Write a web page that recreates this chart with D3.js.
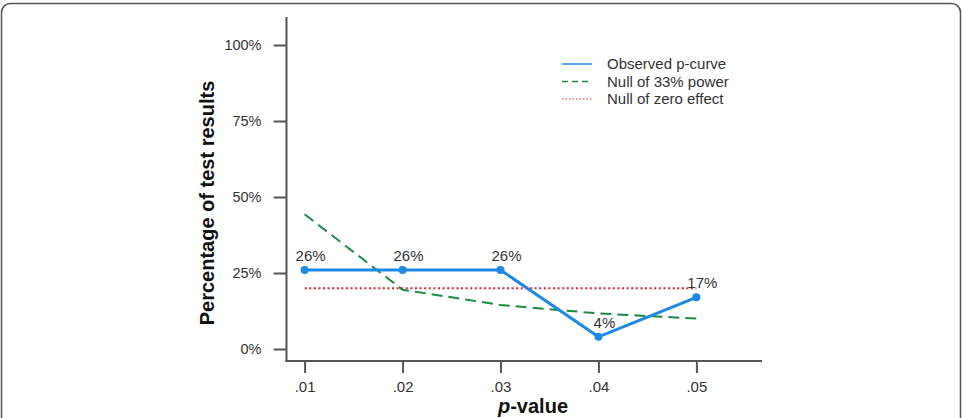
<!DOCTYPE html>
<html lang="en">
<head>
  <meta charset="UTF-8">
  <title>p-curve</title>
  <script src="https://d3js.org/d3.v7.min.js"></script>
  <style>
    body { margin: 0; background: #fff; }
    svg { display: block; font-family: "Liberation Sans", Arial, Helvetica, sans-serif; }
  </style>
</head>
<body>
<script>
  // Chart data
  const pValues = [0.01, 0.02, 0.03, 0.04, 0.05];
  const tickLabels = ['.01', '.02', '.03', '.04', '.05'];
  const observed = [0.26, 0.26, 0.26, 0.04, 0.17];
  const observedLabels = ['26%', '26%', '26%', '4%', '17%'];
  const null33 = [0.443, 0.195, 0.145, 0.117, 0.100];
  const nullZero = [0.20, 0.20, 0.20, 0.20, 0.20];
  const yTicks = [0, 0.25, 0.5, 0.75, 1];
  const legendNames = ['Observed p-curve', 'Null of 33% power', 'Null of zero effect'];

  const width = 963, height = 418;

  const svg = d3.select('body').append('svg')
    .attr('width', width)
    .attr('height', height);

  // rounded frame around the figure
  svg.append('rect')
    .attr('x', 1.5).attr('y', 3.5)
    .attr('width', 959).attr('height', 440)
    .attr('rx', 9)
    .attr('fill', '#fff')
    .attr('stroke', '#555')
    .attr('stroke-width', 1.5);

  // scales
  const x = d3.scaleLinear().domain([0.0081, 0.0567]).range([286, 762]);
  const y = d3.scaleLinear().domain([0, 1]).range([349, 45]);

  const axisColor = '#555';
  const textColor = '#333';

  // y axis
  const yAxis = svg.append('g')
    .attr('transform', 'translate(286.5,0)')
    .call(d3.axisLeft(y).tickValues(yTicks).tickFormat(d3.format('.0%')).tickSize(13).tickPadding(12));
  yAxis.select('.domain').remove();
  yAxis.append('line')
    .attr('y1', 17).attr('y2', 362)
    .attr('stroke', axisColor).attr('stroke-width', 2);
  yAxis.selectAll('.tick line').attr('stroke', axisColor).attr('stroke-width', 2);
  yAxis.selectAll('.tick text').attr('fill', textColor).style('font-size', '14.5px');

  // x axis
  const xAxis = svg.append('g')
    .attr('transform', 'translate(0,361)')
    .call(d3.axisBottom(x).tickValues(pValues).tickFormat((d, i) => tickLabels[i]).tickSize(12).tickPadding(8));
  xAxis.select('.domain').remove();
  xAxis.append('line')
    .attr('x1', 285.5).attr('x2', 762)
    .attr('stroke', axisColor).attr('stroke-width', 2);
  xAxis.selectAll('.tick line').attr('stroke', axisColor).attr('stroke-width', 2);
  xAxis.selectAll('.tick text').attr('fill', textColor).style('font-size', '15px');

  // axis titles
  svg.append('text')
    .attr('transform', 'translate(214,203) rotate(-90)')
    .attr('text-anchor', 'middle')
    .style('font-size', '20px')
    .style('font-weight', 'bold')
    .attr('fill', '#111')
    .text('Percentage of test results');

  const xt = svg.append('text')
    .attr('x', 533).attr('y', 413)
    .attr('text-anchor', 'middle')
    .style('font-size', '20px')
    .style('font-weight', 'bold')
    .attr('fill', '#111');
  xt.append('tspan').style('font-style', 'italic').text('p');
  xt.append('tspan').text('-value');

  const line = d3.line()
    .x((d, i) => x(pValues[i]))
    .y(d => y(d));

  // null of zero effect
  svg.append('path')
    .datum(nullZero)
    .attr('d', line)
    .attr('fill', 'none')
    .attr('stroke', '#e0262c')
    .attr('stroke-width', 2)
    .attr('stroke-dasharray', '2,2.6');

  // null of 33% power
  svg.append('path')
    .datum(null33)
    .attr('d', line)
    .attr('fill', 'none')
    .attr('stroke', '#1a8a45')
    .attr('stroke-width', 2)
    .attr('stroke-dasharray', '11,6');

  // observed
  svg.append('path')
    .datum(observed)
    .attr('d', line)
    .attr('fill', 'none')
    .attr('stroke', '#1e88e5')
    .attr('stroke-width', 3);

  svg.selectAll('circle.obs')
    .data(observed)
    .enter().append('circle')
    .attr('class', 'obs')
    .attr('cx', (d, i) => x(pValues[i]))
    .attr('cy', d => y(d))
    .attr('r', 4)
    .attr('fill', '#1e88e5');

  svg.selectAll('text.lab')
    .data(observed)
    .enter().append('text')
    .attr('class', 'lab')
    .attr('x', (d, i) => x(pValues[i]) + 6)
    .attr('y', d => y(d) - 9)
    .attr('text-anchor', 'middle')
    .attr('fill', textColor)
    .style('font-size', '15px')
    .text((d, i) => observedLabels[i]);

  // legend
  const legendStyles = [
    { color: '#1e88e5', dash: null, w: 1.5 },
    { color: '#1a8a45', dash: '6,4', w: 1.5 },
    { color: '#e0262c', dash: '1.5,2', w: 1.2 }
  ];
  const legend = svg.append('g');
  legendNames.forEach((name, i) => {
    const ly = 64 + i * 17.5;
    legend.append('line')
      .attr('x1', 562).attr('x2', 592)
      .attr('y1', ly).attr('y2', ly)
      .attr('stroke', legendStyles[i].color)
      .attr('stroke-width', legendStyles[i].w)
      .attr('stroke-dasharray', legendStyles[i].dash);
    legend.append('text')
      .attr('x', 607).attr('y', ly)
      .attr('dy', '0.35em')
      .attr('fill', textColor)
      .style('font-size', '15px')
      .text(name);
  });
</script>
</body>
</html>
